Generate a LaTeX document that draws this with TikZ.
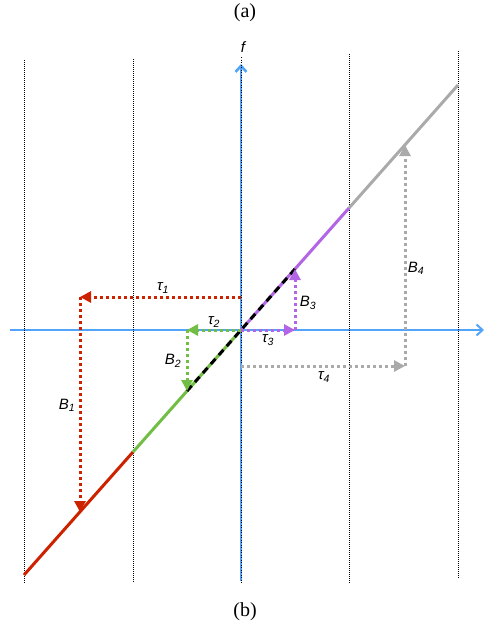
\documentclass[tikz,border=0pt]{standalone}
\usepackage{fontspec}
\setmainfont{Liberation Serif}
\newfontfamily\labfont{Liberation Sans}
\usetikzlibrary{arrows.meta}
\definecolor{cred}{RGB}{204,34,0}
\definecolor{cgreen}{RGB}{114,190,68}
\definecolor{cpurple}{RGB}{178,102,230}
\definecolor{cgray}{RGB}{170,170,170}
\definecolor{cblue}{RGB}{80,165,250}
\tikzset{
  grid line/.style={black, line width=0.9pt, dash pattern=on 1pt off 1pt},
  seg/.style={line width=3pt},
  dotarrow/.style={line width=3pt, dash pattern=on 3pt off 3pt, -{Triangle[length=11pt,width=11pt]}},
  lab/.style={font=\labfont\itshape\fontsize{15}{15}\selectfont, inner sep=1pt},
  captext/.style={font=\fontsize{20}{20}\selectfont}
}
\begin{document}
\begin{tikzpicture}[x=1pt,y=-1pt]
\useasboundingbox (0,0) rectangle (490,629);
% coordinates
\coordinate (O) at (241,330);
\coordinate (L) at (24,575);
\coordinate (P1) at (133,452);
\coordinate (P2) at (187,391);
\coordinate (P3) at (295,269);
\coordinate (P4) at (349,208);
\coordinate (R) at (458,85);
\coordinate (T1) at (80,297);
\coordinate (S1) at (80,512);
\coordinate (T2) at (187,330);
\coordinate (T3) at (295,330);
\coordinate (G0) at (241,366);
\coordinate (T4) at (405,366);
\coordinate (S4) at (405,145);
% axes
\coordinate (AxL) at (10,330);
\coordinate (AxR) at (484,330);
\coordinate (AxB) at (241,581);
\coordinate (AxT) at (241,64);
\draw[cblue, line width=2pt, -{Straight Barb[length=6pt,width=11pt]}] (AxL) -- (AxR);
\draw[cblue, line width=2.6pt, -{Straight Barb[length=6pt,width=11pt]}] (AxB) -- (AxT);
% grid lines
\coordinate (g1t) at (24,60);  \coordinate (g1b) at (24,583);
\coordinate (g2t) at (133,59); \coordinate (g2b) at (133,583);
\coordinate (g3t) at (241,57); \coordinate (g3b) at (241,583);
\coordinate (g4t) at (349,54); \coordinate (g4b) at (349,583);
\coordinate (g5t) at (458,51); \coordinate (g5b) at (458,578);
\foreach \i in {1,2,4,5} \draw[grid line] (g\i t) -- (g\i b);
\draw[black, line width=0.7pt, dash pattern=on 1pt off 1.5pt] (g3t) -- (g3b);
% diagonal segments
\draw[seg, cred] (L) -- (P1);
\draw[seg, cgreen] (P1) -- (O);
\draw[seg, cpurple] (O) -- (P4);
\draw[seg, cgray] (P4) -- (R);
\draw[line width=3pt, black, dash pattern=on 7pt off 5pt] (P2) -- (P3);
% arrows
\draw[dotarrow, cred] (O |- T1) -- (T1);
\draw[dotarrow, cred] (T1) -- (S1);
\draw[dotarrow, cgreen] (O) -- (T2);
\draw[dotarrow, cgreen] (T2) -- (P2);
\draw[dotarrow, cpurple] (O) -- (T3);
\draw[dotarrow, cpurple] (T3) -- (P3);
\draw[dotarrow, cgray] (G0) -- (T4);
\draw[dotarrow, cgray] (T4) -- (S4);
% labels
\node[lab] (lt1) at (163,288) {τ\textsubscript{1}};
\node[lab] (lb1) at (67,405) {B\textsubscript{1}};
\node[lab] (lt2) at (214,322) {τ\textsubscript{2}};
\node[lab] (lb2) at (173,361) {B\textsubscript{2}};
\node[lab] (lt3) at (268,340) {τ\textsubscript{3}};
\node[lab] (lb3) at (308,303) {B\textsubscript{3}};
\node[lab] (lt4) at (324,377) {τ\textsubscript{4}};
\node[lab] (lb4) at (416,268) {B\textsubscript{4}};
\node[lab] (lf) at (243,47) {f};
\node[captext] (ca) at (245,13) {(a)};
\node[captext] (cb) at (245,612) {(b)};
\end{tikzpicture}
\end{document}
